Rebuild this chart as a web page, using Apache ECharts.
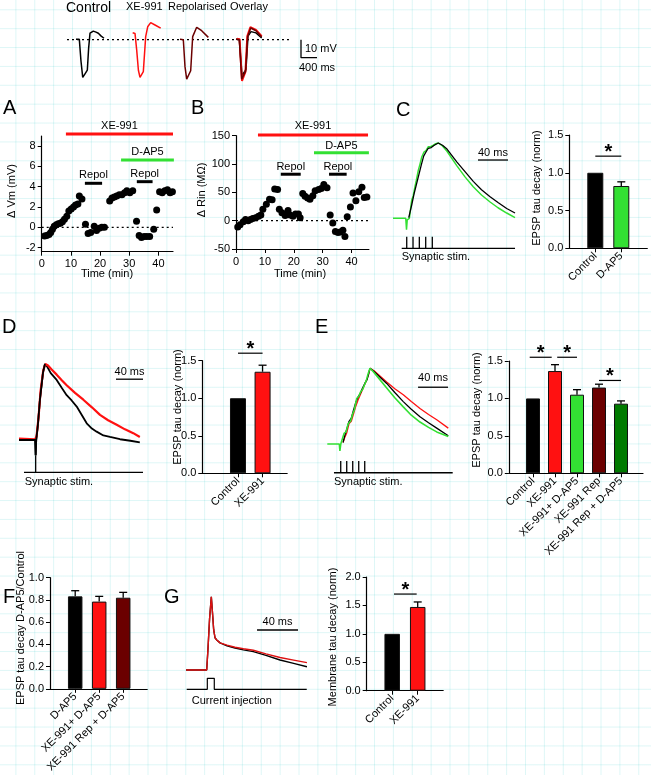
<!DOCTYPE html>
<html><head><meta charset="utf-8">
<script src="https://cdn.jsdelivr.net/npm/echarts@6/dist/echarts.min.js"></script>
<style>
html,body{margin:0;padding:0;background:#fff;}
#c{width:651px;height:775px;
background-image:linear-gradient(to right, rgba(0,190,190,0.13) 1px, transparent 1px),linear-gradient(to bottom, rgba(0,190,190,0.13) 1px, transparent 1px);
background-size:18.89px 18.89px;background-position:15.4px 9.3px;}
</style></head><body><div id="c"></div><script>
// ---------------- DATA ----------------
// Top traces: [time ms, mV]
const topControl=[[400,0.2],[483,0.2],[525,-12],[568,-21],[625,-19],[683,-17],[715,-5],[750,3.6],[790,4.6],[833,4.8],[900,4.2],[958,3.6],[1030,2],[1100,0.8]];
const topXE=[[1817,3.9],[1875,3.5],[1917,-5.7],[1960,-17],[2000,-21],[2083,-17.8],[2142,1.7],[2192,7.2],[2267,9.5],[2375,8.2],[2517,6.4]];
const topRep=[[3000,0.2],[3083,0],[3125,-15],[3167,-22],[3267,-17.3],[3317,1.7],[3417,6.9],[3542,5],[3708,1.3]];
const ovBlack=[[4400,0.2],[4483,0.2],[4550,-20],[4650,-16.5],[4700,2],[4775,4.5],[4900,3.8],[5042,1]];
const ovRep=[[4400,0.2],[4483,0],[4542,-22],[4640,-17.5],[4690,1.7],[4767,6.5],[4900,5],[5042,1.5]];
const ovXE=[[4420,0.5],[4490,0.3],[4550,-23],[4635,-18],[4683,2],[4760,7],[4900,5.5],[5042,2]];
const topBaseline=[[175,0],[5750,0]];
const topScale=[[6025,0],[6025,-10],[6425,-10]];

// Panel A: [time min, dVm mV]
const dataA=[[1.0,-0.85],[1.7,-0.8],[2.5,-0.7],[3.1,-0.5],[3.7,-0.2],[4.3,0.1],[5.0,0.25],[5.7,0.35],[6.4,0.4],[7.1,0.55],[7.8,0.8],[8.6,1.1],[9.3,1.6],[10.1,1.8],[10.9,2.0],[11.6,2.2],[12.4,2.3],[12.9,3.1],[13.8,2.8],[15.0,0.3],[15.9,-0.6],[16.8,-0.5],[18.0,0.1],[18.8,-0.3],[19.7,-0.1],[20.6,0.0],[21.5,0.0],[23.3,2.6],[24.1,2.9],[24.9,3.0],[25.7,3.1],[26.6,3.2],[27.5,3.2],[28.4,3.4],[29.2,3.6],[30.2,3.4],[31.2,3.6],[32.5,0.6],[33.4,-0.8],[34.2,-1.0],[35.1,-0.9],[36.0,-0.9],[37.0,-0.9],[38.4,-0.2],[39.4,1.7],[40.4,3.5],[41.3,3.4],[42.2,3.6],[43.1,3.7],[44.0,3.4],[44.8,3.5]];
const xeA=[8.3,45,9.2], dap5A=[27.2,45.3,6.64], repA1=[14.8,20.7,4.34], repA2=[32.6,38.0,4.5];
// Panel B: [time min, dRin MOhm]
const dataB=[[0.6,-11],[1.4,-7],[2.5,-2],[3.3,2],[4.2,0],[5,2],[5.8,4],[6.8,5],[7.8,8],[8.6,10],[9.3,20],[10.5,29],[11.6,38],[12.5,37],[13.4,56],[14.4,55],[15.0,20],[15.9,14],[17.0,9],[18,18],[18.7,10],[19.7,8],[20.6,12],[21.6,12],[22.2,5],[23.1,48],[23.9,43],[24.8,40],[25.6,38],[26.6,44],[27.4,53],[28.6,55],[29.5,57],[30.4,64],[31.5,58],[32.6,10],[33.5,-4],[34.4,-19],[35.3,-21],[36.1,-20],[37.0,-17],[37.7,-28],[38.5,7],[39.6,24],[40.5,49],[41.5,35],[42.5,51],[43.6,59],[44.4,41],[45.3,42]];
const xeB=[7.6,45.7,151.3], dap5B=[27.0,46.0,120], repB1=[15.5,22.4,82], repB2=[32.2,38.3,82];
const timeTicks=[0,10,20,30,40];
const ticksA=[-2,0,2,4,6,8];

// Trace panels: [time ms, normalised amplitude]
const cGreen=[[0,0],[17,0],[18,-0.15],[19,-0.02],[21.8,0],[24.9,0.24],[27,0.3],[29.3,0.42],[31,0.5],[33.8,0.64],[36,0.72],[38.2,0.81],[41.3,0.88],[44,0.9],[47.1,0.95],[50,0.95],[53.8,0.97],[57,0.99],[60.4,1.0],[66,0.96],[72,0.89],[85,0.70],[96,0.55],[107,0.42],[118,0.31],[129,0.22],[140,0.14],[151.6,0.07],[162.7,0.01]];
const cBlack=[[21,0.01],[22,0.02],[25,0.18],[28,0.32],[30,0.4],[33,0.52],[35,0.6],[38,0.72],[41,0.83],[44,0.88],[47,0.93],[51,0.94],[55,0.97],[60.4,1.0],[66,0.97],[72,0.92],[85,0.75],[96,0.62],[107,0.49],[118,0.38],[129,0.29],[140,0.21],[151.6,0.13],[162.7,0.07]];
const cStim=[18.3,26.7,35.1,43.6,52.4];
const dBlack=[[0,0],[24,0],[24.7,-0.2],[25.5,0],[28,0.2],[31,0.53],[35.6,0.89],[38.5,1.0],[41.5,0.97],[47,0.88],[55.8,0.79],[63,0.69],[70.6,0.59],[78,0.52],[85.5,0.44],[93,0.33],[100.3,0.22],[108,0.15],[115,0.11],[125,0.06],[134.8,0.04],[149.6,0.01],[165,-0.01],[179,-0.03]];
const dRed=[[0,0.02],[24,0.01],[26,0.05],[29,0.3],[32,0.65],[36,0.92],[39,1.0],[43,0.98],[48,0.93],[55.8,0.86],[63,0.79],[70.6,0.72],[83,0.62],[95.3,0.53],[108,0.43],[120,0.33],[132,0.26],[144.7,0.2],[157,0.14],[169.3,0.09],[179,0.04]];
const dStim=[24.7];
const eGreen=[[0,0],[16,0],[16.8,-0.09],[18,0],[22.3,0.14],[25,0.16],[28,0.27],[31,0.3],[33.9,0.4],[36,0.45],[39.2,0.6],[42,0.63],[44.5,0.69],[47,0.72],[50.3,0.8],[52,0.84],[53.9,0.91],[56.9,1.0],[60,0.97],[66,0.9],[79.2,0.74],[90,0.61],[101.3,0.49],[112,0.38],[123.6,0.29],[135,0.22],[145.9,0.16],[161.3,0.1]];
const eBlack=[[21,0.02],[23,0.1],[26,0.2],[29,0.3],[32,0.34],[35,0.45],[38,0.55],[41,0.62],[44,0.67],[47,0.74],[50,0.8],[53,0.85],[55,0.92],[56.9,1.0],[62,0.96],[79.2,0.8],[90,0.68],[101.3,0.56],[112,0.46],[123.6,0.36],[135,0.28],[145.9,0.21],[161.3,0.11]];
const eRed=[[21,0.02],[23,0.08],[26,0.15],[29,0.27],[32,0.3],[35,0.4],[38,0.5],[41,0.58],[44,0.65],[47,0.72],[50,0.79],[53,0.86],[55,0.92],[56.9,1.0],[62,0.97],[79.2,0.82],[90,0.73],[101.3,0.65],[112,0.56],[123.6,0.47],[135,0.39],[145.9,0.32],[161.3,0.21]];
const eStim=[17.9,25.9,33.9,41.9,49.9];
const gBlack=[[0,0],[20.2,0],[21.5,0.3],[23,0.7],[24.7,1.0],[26,0.75],[27,0.55],[28.3,0.44],[30,0.41],[33.2,0.37],[40,0.33],[47.8,0.30],[56,0.275],[65.7,0.25],[78,0.2],[91.7,0.136],[105,0.09],[118,0.045]];
const gRed=[[0,0],[20.2,0],[21.5,0.3],[23,0.7],[24.7,1.0],[26,0.75],[27,0.55],[28.3,0.44],[30,0.41],[33.2,0.37],[40,0.34],[47.8,0.31],[56,0.29],[65.7,0.27],[78,0.22],[91.7,0.17],[105,0.135],[118,0.1]];
const gCurrent=[[0.7,-0.263],[20.8,-0.263],[20.8,-0.113],[27.6,-0.113],[27.6,-0.263],[117.8,-0.263]];

// Bar panels
const catsC=['Control','D-AP5'], valsC=[1.0,0.825], errC=[0,0.055];
const catsD=['Control','XE-991'], valsD=[1.0,1.353], errD=[0,0.087];
const catsE=['Control','XE-991','XE-991+ D-AP5','XE-991 Rep','XE-991 Rep + D-AP5'];
const valsE=[1.0,1.366,1.05,1.145,0.93], errE=[0,0.085,0.067,0.045,0.037];
const catsF=['D-AP5','XE-991+ D-AP5','XE-991 Rep + D-AP5'], valsF=[0.832,0.785,0.82], errF=[0.051,0.047,0.048];
const catsG=['Control','XE-991'], valsG=[1.0,1.473], errG=[0,0.088];
const sigC=[[1,2,1.22]], sigD=[[1,2,1.6]], sigE=[[0.85,1.85,1.55],[2.1,3.0,1.55],[4.0,5.0,1.24]], sigG=[[1.07,1.96,1.70]];

// ---------------- STYLE / LAYOUT ----------------
const FONT='"Liberation Sans", Arial, sans-serif';
const RED='#ff1111', GREEN='#33e033', DRED='#6b0000', DGREEN='#007a00';
const grids=[], xAxes=[], yAxes=[], series=[], graphics=[];

function addTraceGrid(ox,oy,sx,sy,xr,yr){
  const i=grids.length;
  grids.push({left:ox+xr[0]*sx, top:oy-yr[1]*sy, width:(xr[1]-xr[0])*sx, height:(yr[1]-yr[0])*sy});
  xAxes.push({gridIndex:i,type:'value',min:xr[0],max:xr[1],show:false});
  yAxes.push({gridIndex:i,type:'value',min:yr[0],max:yr[1],show:false});
  return i;
}
function line(gi,data,color,width,extra){
  series.push(Object.assign({type:'line',xAxisIndex:gi,yAxisIndex:gi,data:data,symbol:'none',silent:true,
    animation:false,clip:false,lineStyle:{color:color,width:width}},extra||{}));
}
function stimTicks(gi,times,base,top,x0,x1){
  line(gi,[[x0,base],[x1,base]],'#000',1.3);
  series.push({type:'custom',xAxisIndex:gi,yAxisIndex:gi,data:times.map(t=>[t,base,top]),silent:true,animation:false,
    renderItem:(p,api)=>{const a=api.coord([api.value(0),api.value(1)]),b=api.coord([api.value(0),api.value(2)]);
      return {type:'line',shape:{x1:a[0],y1:a[1],x2:b[0],y2:b[1]},style:{stroke:'#000',lineWidth:1.3}};}});
}
function scaleBar(gi,t0,t1,y,label,gap){
  series.push({type:'custom',xAxisIndex:gi,yAxisIndex:gi,data:[[t0,t1,y]],silent:true,animation:false,
    renderItem:(p,api)=>{const a=api.coord([api.value(0),api.value(2)]),b=api.coord([api.value(1),api.value(2)]);
      return {type:'group',children:[
        {type:'line',shape:{x1:a[0],y1:a[1],x2:b[0],y2:b[1]},style:{stroke:'#000',lineWidth:1.3}},
        {type:'text',x:(a[0]+b[0])/2,y:a[1]-gap,style:{text:label,fontSize:11,fontFamily:FONT,fill:'#000',align:'center',verticalAlign:'middle'}}]};}});
}
function annot(gi,seg,label,color,gap){
  series.push({type:'custom',xAxisIndex:gi,yAxisIndex:gi,data:[seg],silent:true,animation:false,
    renderItem:(p,api)=>{const a=api.coord([api.value(0),api.value(2)]),b=api.coord([api.value(1),api.value(2)]);
      return {type:'group',children:[
        {type:'line',shape:{x1:a[0],y1:a[1],x2:b[0],y2:b[1]},style:{stroke:color,lineWidth:3}},
        {type:'text',x:(a[0]+b[0])/2,y:a[1]-gap,style:{text:label,fontSize:11,fontFamily:FONT,fill:'#000',align:'center',verticalAlign:'middle'}}]};}});
}
const axLine={show:true,onZero:false,lineStyle:{color:'#000',width:1.2}};
const axTick={show:true,inside:false,length:4,lineStyle:{color:'#000',width:1}};
const axLab={fontSize:11,fontFamily:FONT,color:'#000'};

function addScatterGrid(box,xr,yr,xt,yt,data){
  const i=grids.length;
  grids.push(box);
  xAxes.push({gridIndex:i,type:'value',min:xr[0],max:xr[1],axisLine:axLine,
    axisTick:Object.assign({customValues:xt},axTick),axisLabel:Object.assign({customValues:xt,margin:7},axLab),splitLine:{show:false}});
  yAxes.push({gridIndex:i,type:'value',min:yr[0],max:yr[1],axisLine:axLine,
    axisTick:Object.assign({customValues:yt},axTick),axisLabel:Object.assign({customValues:yt,margin:6},axLab),splitLine:{show:false}});
  line(i,[[0,0],[xr[1],0]],'#000',1.2,{lineStyle:{color:'#000',width:1.2,type:[2,3]}});
  series.push({type:'scatter',xAxisIndex:i,yAxisIndex:i,data:data,symbolSize:7,itemStyle:{color:'#000',opacity:1},animation:false,silent:true,z:4});
  return i;
}
function addBarGrid(o){
  const i=grids.length;
  grids.push({left:o.left,top:o.top,width:o.unit*(o.xr[1]-o.xr[0]),height:o.height});
  const pos=o.cats.map((c,k)=>k+1);
  xAxes.push({gridIndex:i,type:'value',min:o.xr[0],max:o.xr[1],axisLine:axLine,
    axisTick:Object.assign({customValues:pos},axTick),
    axisLabel:Object.assign({customValues:pos,rotate:45,margin:6,formatter:v=>o.cats[Math.round(v)-1]},axLab),
    splitLine:{show:false}});
  yAxes.push({gridIndex:i,type:'value',min:o.yr[0],max:o.yr[1],interval:o.step,axisLine:axLine,axisTick:axTick,
    axisLabel:Object.assign({margin:6,formatter:v=>v.toFixed(1)},axLab),splitLine:{show:false}});
  series.push({type:'bar',xAxisIndex:i,yAxisIndex:i,barWidth:o.barW,animation:false,silent:true,
    data:o.vals.map((v,k)=>({value:[k+1,v],itemStyle:{color:o.colors[k],borderColor:'#111',borderWidth:1}}))});
  series.push({type:'custom',xAxisIndex:i,yAxisIndex:i,silent:true,animation:false,z:5,
    data:o.vals.map((v,k)=>[k+1,v,o.errs[k]]),
    renderItem:(p,api)=>{const e=api.value(2); if(!e) return null;
      const a=api.coord([api.value(0),api.value(1)]),b=api.coord([api.value(0),api.value(1)+e]);
      return {type:'group',children:[
        {type:'line',shape:{x1:a[0],y1:a[1],x2:b[0],y2:b[1]},style:{stroke:'#000',lineWidth:1.3}},
        {type:'line',shape:{x1:b[0]-4,y1:b[1],x2:b[0]+4,y2:b[1]},style:{stroke:'#000',lineWidth:1.3}}]};}});
  if(o.sig){
    series.push({type:'custom',xAxisIndex:i,yAxisIndex:i,silent:true,animation:false,data:o.sig,
      renderItem:(p,api)=>{const a=api.coord([api.value(0),api.value(2)]),b=api.coord([api.value(1),api.value(2)]);
        return {type:'group',children:[
          {type:'line',shape:{x1:a[0],y1:a[1],x2:b[0],y2:b[1]},style:{stroke:'#000',lineWidth:1.2}},
          {type:'text',x:(a[0]+b[0])/2,y:a[1]-4,style:{text:'*',fontSize:20,fontWeight:'bold',fontFamily:FONT,fill:'#000',align:'center',verticalAlign:'middle'}}]};}});
  }
  return i;
}

// ---- Top traces
const gTop=addTraceGrid(60,39.7,0.04,1.795,[0,6800],[-24,11]);
line(gTop,topBaseline,'#000',1.2,{lineStyle:{color:'#000',width:1.2,type:[2,3]}});
line(gTop,topControl,'#000',1.5);
line(gTop,topXE,RED,1.5);
line(gTop,topRep,DRED,1.5);
line(gTop,ovBlack,'#000',1.5);
line(gTop,ovXE,RED,2);
line(gTop,ovRep,DRED,1.5);
line(gTop,topScale,'#000',1.3);

// ---- A, B
const gA=addScatterGrid({left:41.7,top:136,width:131.3,height:115.7},[0,45],[-2.4,9],timeTicks,ticksA,dataA);
annot(gA,xeA,'XE-991',RED,8.5); annot(gA,dap5A,'D-AP5',GREEN,8); annot(gA,repA1,'Repol','#000',8); annot(gA,repA2,'Repol','#000',8);
const gB=addScatterGrid({left:236,top:135.7,width:132.9,height:113.3},[0,46],[-50,150],timeTicks,[-50,0,50,100,150],dataB);
annot(gB,xeB,'XE-991',RED,8.5); annot(gB,dap5B,'D-AP5',GREEN,7); annot(gB,repB1,'Repol','#000',7.5); annot(gB,repB2,'Repol','#000',7.5);

// ---- C
const gCt=addTraceGrid(393,218.3,0.75,75.3,[0,164],[-0.45,1.05]);
line(gCt,cGreen,GREEN,1.5); line(gCt,cBlack,'#000',1.3);
stimTicks(gCt,cStim,-0.40,-0.244,11.6,162.7);
scaleBar(gCt,113.3,153.3,0.774,'40 ms',7.5);
addBarGrid({left:569.3,top:135,height:113.3,unit:26,xr:[0,3],yr:[0,1.5],step:0.5,cats:catsC,vals:valsC,errs:errC,colors:['#000',GREEN],barW:16,sig:sigC});

// ---- D
const gDt=addTraceGrid(19,440,0.675,76,[0,186],[-0.45,1.05]);
line(gDt,dBlack,'#000',1.8); line(gDt,dRed,RED,2.2);
line(gDt,dBlack.slice(0,8),'#000',1.8);
stimTicks(gDt,dStim,-0.425,-0.2,7.4,183.7);
scaleBar(gDt,143.7,183.7,0.8,'40 ms',7.5);
addBarGrid({left:202.3,top:360.7,height:112.6,unit:24.6,xr:[-0.45,3],yr:[0,1.5],step:0.5,cats:catsD,vals:valsD,errs:errD,colors:['#000',RED],barW:16,sig:sigD});

// ---- E
const gEt=addTraceGrid(327.3,444,0.75,75.7,[0,168],[-0.42,1.05]);
line(gEt,eRed,RED,1.3); line(gEt,eBlack,'#000',1.3); line(gEt,eGreen,GREEN,1.6);
stimTicks(gEt,eStim,-0.38,-0.225,8.9,167.2);
scaleBar(gEt,121,161,0.75,'40 ms',9);
addBarGrid({left:508.8,top:361,height:112.3,unit:22,xr:[-0.1,6],yr:[0,1.5],step:0.5,cats:catsE,vals:valsE,errs:errE,colors:['#000',RED,GREEN,DRED,DGREEN],barW:14,sig:sigE});

// ---- F
addBarGrid({left:50,top:577.7,height:113.3,unit:24,xr:[-0.05,4],yr:[0,1.0],step:0.2,cats:catsF,vals:valsF,errs:errF,colors:['#000',RED,DRED],barW:14.5});

// ---- G
const gGt=addTraceGrid(186,670,1.025,73.3,[0,120],[-0.3,1.05]);
line(gGt,gBlack,'#000',1.4); line(gGt,gRed,'#dd1111',1.4);
line(gGt,gCurrent,'#000',1.2);
scaleBar(gGt,69.3,109.3,0.546,'40 ms',7.7);
addBarGrid({left:366.7,top:577,height:113.7,unit:25.5,xr:[0,3],yr:[0,2.0],step:0.5,cats:catsG,vals:valsG,errs:errG,colors:['#000',RED],barW:15.5,sig:sigG});

// ---- Texts
function txt(s,x,y,size,align,rot){
  graphics.push({type:'text',x:x,y:y,rotation:rot?Math.PI/2:0,silent:true,
    style:{text:s,fontSize:size,fontFamily:FONT,fill:'#000',align:align||'left',verticalAlign:'middle'}});
}
txt('A',3,108,20); txt('B',191,108,20); txt('C',396,110,20); txt('D',2,327,20); txt('E',315,327,20);
txt('F',3,597,20); txt('G',164,597,20);
txt('Control',66,8.5,14); txt('XE-991',126,7,11); txt('Repolarised',168,7,11); txt('Overlay',230,7,11);
txt('10 mV',305,49,11); txt('400 ms',299,67.5,11);
txt('Synaptic stim.',401.7,256.7,11); txt('Synaptic stim.',24.7,481.7,11); txt('Synaptic stim.',334,481.7,11);
txt('Current injection',191.7,700.7,11);
txt('Time (min)',107,274,11,'center'); txt('Time (min)',300,274,11,'center');
txt('\u0394 Vm (mV)',12,191,11,'center',true);
txt('\u0394 Rin (M\u03A9)',201.7,190,11,'center',true);
txt('EPSP tau decay (norm)',537,188,11,'center',true);
txt('EPSP tau decay (norm)',178,407,11,'center',true);
txt('EPSP tau decay (norm)',476.7,410,11,'center',true);
txt('EPSP tau decay D-AP5/Control',20.5,628,11,'center',true);
txt('Membrane tau decay (norm)',333,637,11,'center',true);

const chart=echarts.init(document.getElementById('c'),null,{renderer:'canvas'});
chart.setOption({animation:false,backgroundColor:'transparent',grid:grids,xAxis:xAxes,yAxis:yAxes,series:series,graphic:graphics});
</script></body></html>
